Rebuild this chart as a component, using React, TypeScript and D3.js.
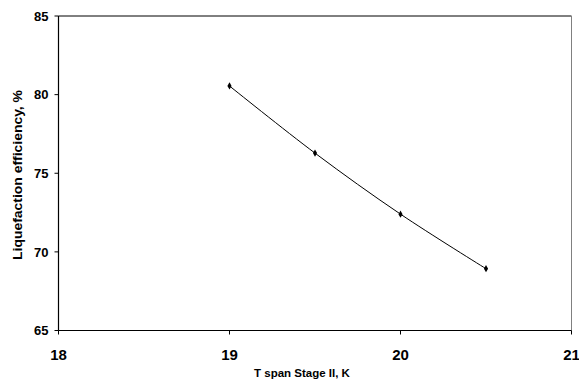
import * as React from "react";
import * as d3 from "d3";

const tSpan = [19, 19.5, 20, 20.5];
const efficiency = [80.55, 76.28, 72.4, 68.93];
const xTicks = [18, 19, 20, 21];
const yTicks = [65, 70, 75, 80, 85];

const width = 579;
const height = 387;
const plot = { left: 58.5, right: 571.5, top: 16, bottom: 330.5 };

const App: React.FC = () => {
  const x = d3.scaleLinear().domain([18, 21]).range([plot.left, plot.right]);
  const y = d3.scaleLinear().domain([65, 85]).range([plot.bottom, plot.top]);

  const pts = tSpan.map((t, i) => [x(t), y(efficiency[i])] as [number, number]);
  const line = d3.line().curve(d3.curveCatmullRom.alpha(0.5))(pts) || "";
  const diamond = d3.symbol().type(d3.symbolDiamond).size(15)() || "";

  const font = "Arial, 'Liberation Sans', Helvetica, sans-serif";

  return (
    <svg
      width={width}
      height={height}
      style={{ position: "absolute", left: 0, top: 0, background: "#fff" }}
      fontFamily={font}
      fontWeight="bold"
    >
      {/* plot frame */}
      <line x1={plot.left} x2={plot.right} y1={plot.top} y2={plot.top} stroke="#000" strokeWidth={1} />
      <line x1={plot.right} x2={plot.right} y1={plot.top} y2={plot.bottom} stroke="#808080" strokeWidth={1} />
      <line x1={plot.left} x2={plot.right} y1={plot.bottom} y2={plot.bottom} stroke="#000" strokeWidth={1.2} />
      <line x1={plot.left} x2={plot.left} y1={plot.top} y2={plot.bottom} stroke="#000" strokeWidth={1.2} />

      {/* y axis */}
      {yTicks.map((v) => (
        <g key={v}>
          <line x1={plot.left - 4} x2={plot.left} y1={y(v)} y2={y(v)} stroke="#000" />
          <text x={48.5} y={y(v)} dy="0.36em" textAnchor="end" fontSize={13}>
            {v}
          </text>
        </g>
      ))}

      {/* x axis */}
      {xTicks.map((v) => (
        <g key={v}>
          <line x1={x(v)} x2={x(v)} y1={plot.bottom} y2={plot.bottom + 4} stroke="#000" />
          <text x={x(v)} y={360} textAnchor="middle" fontSize={15}>
            {v}
          </text>
        </g>
      ))}

      {/* series */}
      <path d={line} fill="none" stroke="#000" strokeWidth={1} />
      {pts.map(([px, py], i) => (
        <path key={i} d={diamond} transform={`translate(${px},${py})`} fill="#000" />
      ))}

      {/* titles */}
      <text x={302} y={377} textAnchor="middle" fontSize={11.5}>
        T span Stage II, K
      </text>
      <text
        transform="translate(22,175) rotate(-90)"
        textAnchor="middle"
        fontSize={12}
        textLength={170}
        lengthAdjust="spacingAndGlyphs"
      >
        Liquefaction efficiency, %
      </text>
    </svg>
  );
};

export default App;
